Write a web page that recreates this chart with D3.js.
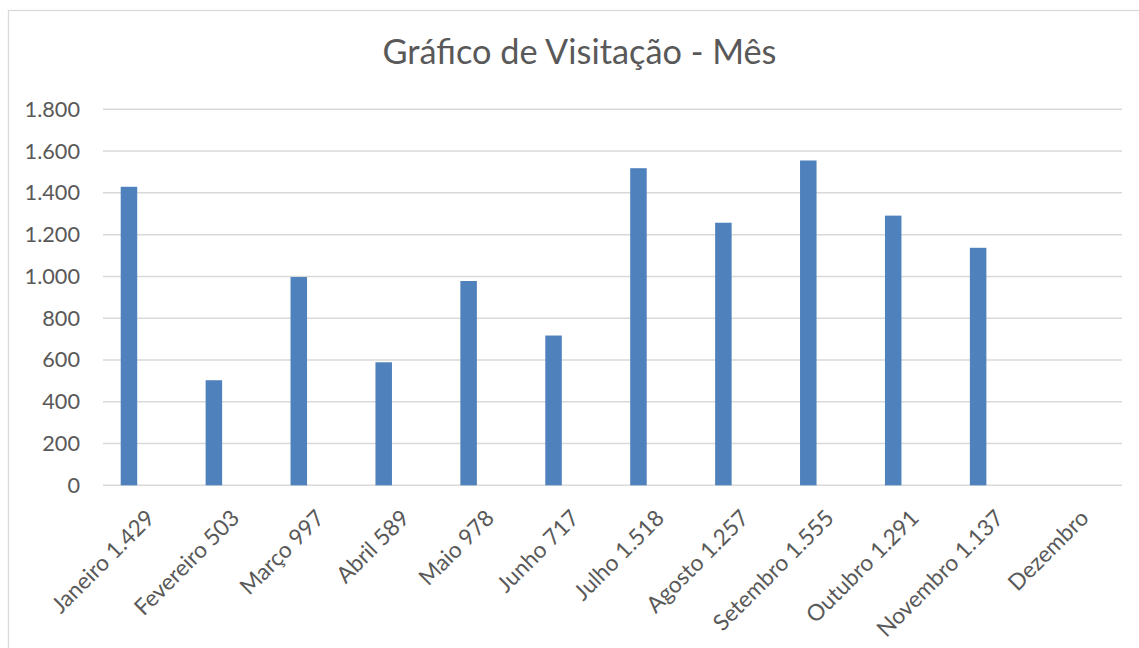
<!DOCTYPE html>
<html><head><meta charset="utf-8">
<script src="https://cdn.jsdelivr.net/npm/d3@7"></script>
<style>
html,body{margin:0;padding:0;background:#fff;}
svg{display:block;font-family:Lato, "Open Sans", sans-serif;}
</style></head>
<body>
<svg id="c" width="1139" height="648"></svg>
<script>
const months = ["Janeiro","Fevereiro","Março","Abril","Maio","Junho","Julho","Agosto","Setembro","Outubro","Novembro","Dezembro"];
const labels = ["Janeiro 1.429","Fevereiro 503","Março 997","Abril 589","Maio 978","Junho 717","Julho 1.518","Agosto 1.257","Setembro 1.555","Outubro 1.291","Novembro 1.137","Dezembro"];
const visits = [1429,503,997,589,978,717,1518,1257,1555,1291,1137,null];
const seriesKeys = ["s1","s2","s3"];
const yTicks = [0,200,400,600,800,1000,1200,1400,1600,1800];
const title = "Gráfico de Visitação - Mês";

const svg = d3.select("#c");
const plotL = 103, plotR = 1122, plotT = 109.3, plotB = 485.3;
const txt = "#595959", grid = "#D9D9D9", bar = "#4F81BD";

svg.append("rect").attr("x",8.5).attr("y",10.5).attr("width",1160).attr("height",700)
  .attr("fill","#fff").attr("stroke",grid).attr("stroke-width",1.3);

svg.append("text").attr("x",579.5).attr("y",63.5).attr("text-anchor","middle")
  .attr("fill",txt).attr("font-size",34.3).text(title);

const y = d3.scaleLinear().domain([0,1800]).range([plotB,plotT]);
const x0 = d3.scaleBand().domain(months).range([plotL,plotR]).paddingInner(0.417).paddingOuter(0.2085);
const x1 = d3.scaleBand().domain(seriesKeys).range([0,x0.bandwidth()]);
const fmt = d3.formatLocale({decimal:",",thousands:".",grouping:[3],currency:["R$",""]}).format(",d");

svg.append("g").selectAll("line").data(yTicks).join("line")
  .attr("x1",plotL).attr("x2",plotR).attr("y1",d=>y(d)).attr("y2",d=>y(d))
  .attr("stroke",grid).attr("stroke-width",1.5);

const yAxis = d3.axisLeft(y).tickValues(yTicks).tickFormat(fmt).tickSize(0).tickPadding(0);
const ga = svg.append("g").attr("transform",`translate(80,0)`).call(yAxis);
ga.select(".domain").remove();
ga.selectAll("text").attr("fill",txt).attr("font-size",21.7).attr("font-family","Lato, 'Open Sans', sans-serif");

svg.append("g").selectAll("rect").data(months.map((m,i)=>({m,v:visits[i]})).filter(d=>d.v!=null)).join("rect")
  .attr("x",d=>x0(d.m)+x1("s1")).attr("width",x1.bandwidth())
  .attr("y",d=>y(d.v)).attr("height",d=>y(0)-y(d.v)).attr("fill",bar);

const xs = d3.scaleBand().domain(months).range([plotL,plotR]);
svg.append("g").selectAll("text").data(months.map((m,i)=>({m,l:labels[i]}))).join("text")
  .attr("transform",d=>`translate(${xs(d.m)+xs.bandwidth()/2-1},508) rotate(-45)`)
  .attr("text-anchor","end").attr("dy","0.72em")
  .attr("fill",txt).attr("font-size",22.6).text(d=>d.l);
</script>
</body></html>
